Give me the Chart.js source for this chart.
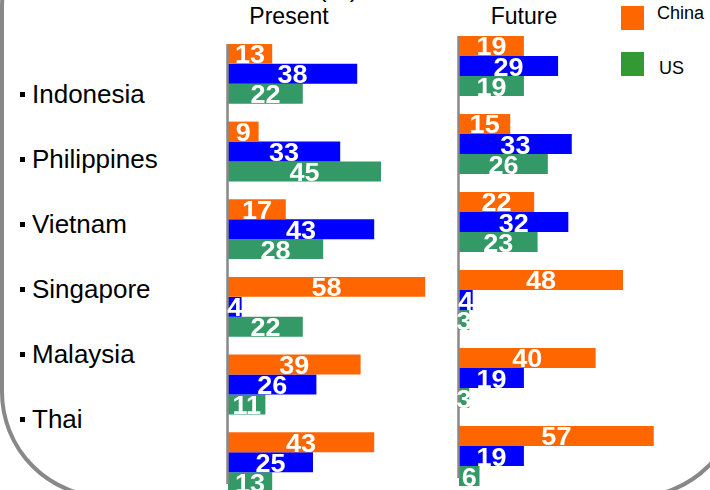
<!DOCTYPE html>
<html>
<head>
<meta charset="utf-8">
<script src="https://cdn.jsdelivr.net/npm/chart.js@4.4.0/dist/chart.umd.min.js"></script>
<style>
    html, body { margin: 0; padding: 0; background: #fff; }
    body {
        width: 710px; height: 490px; overflow: hidden; position: relative;
        font-family: "Liberation Sans", Arial, sans-serif; color: #000;
    }
    .frame {
        position: absolute; left: 0; top: -100px; width: 741px; height: 599px;
        box-sizing: border-box; border: 4px solid #888; border-radius: 107px;
    }
    .cut-title { position: absolute; left: 318px; top: -25px; font-size: 26px; line-height: 1; }
    .panel-title { position: absolute; top: 5px; font-size: 23px; line-height: 1; transform: translateX(-50%); white-space: nowrap; }
    .country { position: absolute; left: 20px; font-size: 26px; line-height: 1; white-space: nowrap; }
    .country::before {
        content: ''; display: inline-block; width: 5px; height: 5px; background: #000;
        margin-right: 7px; vertical-align: 6px;
    }
    .legend-box { position: absolute; left: 621px; width: 23px; height: 24px; }
    .legend-text { position: absolute; font-size: 18px; line-height: 1; }
    canvas { position: absolute; }
</style>
</head>
<body>
<div class="frame"></div>
<div class="cut-title">(%)</div>
<div class="panel-title" style="left:289px">Present</div>
<div class="panel-title" style="left:524px">Future</div>
<div id="countries"></div>
<div id="legend"></div>
<canvas id="presentChart" width="206" height="466" style="left:226px; top:35px"></canvas>
<canvas id="futureChart" width="207" height="468" style="left:457px; top:27px"></canvas>

<script>
// Data
const categories = ['Indonesia', 'Philippines', 'Vietnam', 'Singapore', 'Malaysia', 'Thai'];
const seriesNames = ['China', 'Japan', 'US'];
const legendNames = ['China', 'US'];

const presentChina = [13, 9, 17, 58, 39, 43];
const presentJapan = [38, 33, 43, 4, 26, 25];
const presentUS = [22, 45, 28, 22, 11, 13];

const futureChina = [19, 15, 22, 48, 40, 57];
const futureJapan = [29, 33, 32, 4, 19, 19];
const futureUS = [19, 26, 23, 3, 3, 6];

const barColors = ['#FF6600', '#0000FF', '#339966'];
const legendColors = { China: '#FF6600', US: '#339933' };

// Country labels (left column)
const countryBox = document.getElementById('countries');
categories.forEach((name, i) => {
    const div = document.createElement('div');
    div.className = 'country';
    div.style.top = (81 + 65 * i) + 'px';
    div.textContent = name;
    countryBox.appendChild(div);
});

// Legend
const legendBox = document.getElementById('legend');
legendNames.forEach((name, i) => {
    const box = document.createElement('div');
    box.className = 'legend-box';
    box.style.top = (6 + 46 * i) + 'px';
    box.style.background = legendColors[name];
    legendBox.appendChild(box);
    const txt = document.createElement('div');
    txt.className = 'legend-text';
    txt.style.left = (657 + 2 * i) + 'px';
    txt.style.top = (4 + 55 * i) + 'px';
    txt.textContent = name;
    legendBox.appendChild(txt);
});

// Gray vertical axis line at the left of each panel
const axisLine = {
    id: 'axisLine',
    afterDatasetsDraw(chart) {
        const first = chart.getDatasetMeta(0).data[0];
        const lastMeta = chart.getDatasetMeta(chart.data.datasets.length - 1);
        const last = lastMeta.data[lastMeta.data.length - 1];
        const ctx = chart.ctx;
        ctx.save();
        ctx.strokeStyle = '#888';
        ctx.lineWidth = 2.5;
        ctx.beginPath();
        ctx.moveTo(chart.chartArea.left - 0.5, first.y - first.height / 2);
        ctx.lineTo(chart.chartArea.left - 0.5, last.y + last.height / 2 - 8);
        ctx.stroke();
        ctx.restore();
    }
};

// White values inside bars (slightly widened bold text)
const valueLabels = {
    id: 'valueLabels',
    afterDatasetsDraw(chart) {
        const ctx = chart.ctx;
        ctx.save();
        ctx.font = 'bold 25px "Liberation Sans"';
        ctx.fillStyle = '#fff';
        ctx.textAlign = 'center';
        ctx.textBaseline = 'alphabetic';
        chart.data.datasets.forEach((ds, i) => {
            chart.getDatasetMeta(i).data.forEach((bar, j) => {
                ctx.save();
                ctx.translate((bar.base + bar.x) / 2, bar.y + 9.5);
                ctx.scale(1.08, 1);
                ctx.fillText(ds.data[j], 0, 0);
                ctx.restore();
            });
        });
        ctx.restore();
    }
};

const makePanel = (id, values) => {
    new Chart(document.getElementById(id), {
        type: 'bar',
        data: {
            labels: categories,
            datasets: values.map((data, i) => ({
                label: seriesNames[i],
                data: data,
                backgroundColor: barColors[i],
                borderWidth: 0
            }))
        },
        options: {
            indexAxis: 'y',
            responsive: false,
            animation: false,
            categoryPercentage: 0.77,
            barPercentage: 1,
            layout: { padding: { left: 2, right: 0, top: 0, bottom: 0 } },
            scales: {
                x: { display: false, min: 0, max: 60 },
                y: { display: false }
            },
            plugins: {
                legend: { display: false },
                tooltip: { enabled: false }
            }
        },
        plugins: [axisLine, valueLabels]
    });
};

makePanel('presentChart', [presentChina, presentJapan, presentUS]);
makePanel('futureChart', [futureChina, futureJapan, futureUS]);
</script>
</body>
</html>
